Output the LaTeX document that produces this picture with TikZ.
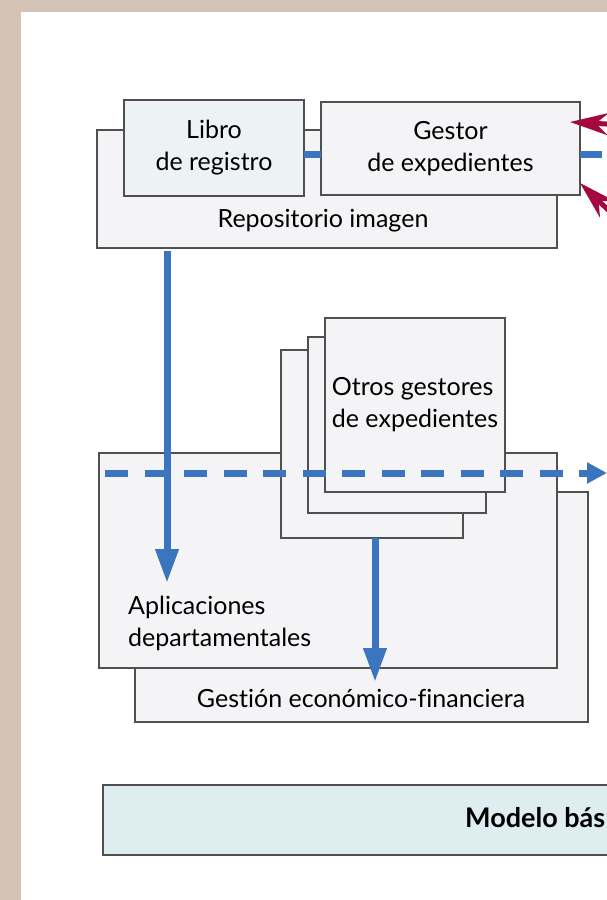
\documentclass[tikz,border=0pt]{standalone}
\usepackage{fontspec}
\setmainfont{Lato}[Ligatures={NoCommon}]
\usetikzlibrary{arrows.meta}
\definecolor{beige}{HTML}{D4C4B8}
\definecolor{boxline}{HTML}{505050}
\definecolor{boxfill}{HTML}{F4F4F6}
\definecolor{libfill}{HTML}{EDF2F5}
\definecolor{modfill}{HTML}{DDEDF0}
\definecolor{flowblue}{HTML}{3A75BE}
\definecolor{crimson}{HTML}{A5073F}
\begin{document}
\begin{tikzpicture}[x=1pt,y=-1pt,
  font=\fontsize{25}{32}\selectfont,
  sbox/.style={draw=boxline,line width=1.4pt,fill=boxfill,rectangle,inner sep=0pt,outer sep=0pt},
  flow/.style={draw=flowblue,line width=7pt},
  flowhead/.style={-{Triangle[length=34pt,width=22pt]}},
  redarrow/.style={draw=crimson,line width=5pt,-{Stealth[length=38pt,width=22pt]}}]
\clip (0,0) rectangle (607,900);
% page background
\fill[beige] (0,0) rectangle (607,900);
\fill[white] (21,12) rectangle (607,900);
% top group
\node[sbox,minimum width=460pt,minimum height=118pt] (repo) at (327,189) {};
\node (repotext) at (323,221) {Repositorio imagen};
\node[sbox,fill=libfill,minimum width=180pt,minimum height=96pt,align=center] (libro) at (214,148) {Libro\\de registro};
\node[sbox,minimum width=259pt,minimum height=93pt,align=center] (gestor) at (450.5,148.5) {Gestor\\de expedientes};
\coordinate (dy) at (0,154);
\coordinate (rdash) at (602,154);
\draw[flow] (libro.east |- dy) -- (gestor.west |- dy);
\draw[flow] (gestor.east |- dy) -- (rdash);
% red arrows
\coordinate (r1s) at (660,127);
\coordinate (r1e) at (570,122);
\coordinate (r2s) at (650,250);
\coordinate (r2e) at (580,183);
\draw[redarrow] (r1s) -- (r1e);
\draw[redarrow] (r2s) -- (r2e);
% middle group
\node[sbox,minimum width=453pt,minimum height=230pt] (gestion) at (361.5,607) {};
\node (gestiontext) at (361,698) {Gestión económico-financiera};
\node[sbox,minimum width=458pt,minimum height=215pt] (aplic) at (328,560.5) {};
\node[anchor=north west,align=left,inner sep=0pt] (aplictext) at (128,596) {Aplicaciones\\departamentales};
\node[sbox,minimum width=182pt,minimum height=188pt] (otros3) at (372,444) {};
\node[sbox,minimum width=178pt,minimum height=176pt] (otros2) at (397,425) {};
\node[sbox,minimum width=180pt,minimum height=174pt,align=left] (otros1) at (415,405) {Otros gestores\\de expedientes};
% flows
\coordinate (a1e) at (167,583);
\draw[flow,flowhead] ([yshift=-3pt]repo.south -| a1e) -- (a1e);
\coordinate (a2e) at (375,682);
\draw[flow,flowhead] (otros3.south -| a2e) -- (a2e);
\coordinate (ds) at (105,473);
\coordinate (de) at (607,473);
\draw[flow,dash pattern=on 23pt off 16.5pt,-{Triangle[length=20pt,width=20pt]}] (ds) -- (de);
% bottom
\node[sbox,fill=modfill,minimum width=540pt,minimum height=70pt] (modelo) at (373,820) {};
\node[anchor=west,inner sep=0pt,font=\fontsize{27}{32}\selectfont\bfseries] (modelotext) at (465,818) {Modelo bás};
\end{tikzpicture}
\end{document}
